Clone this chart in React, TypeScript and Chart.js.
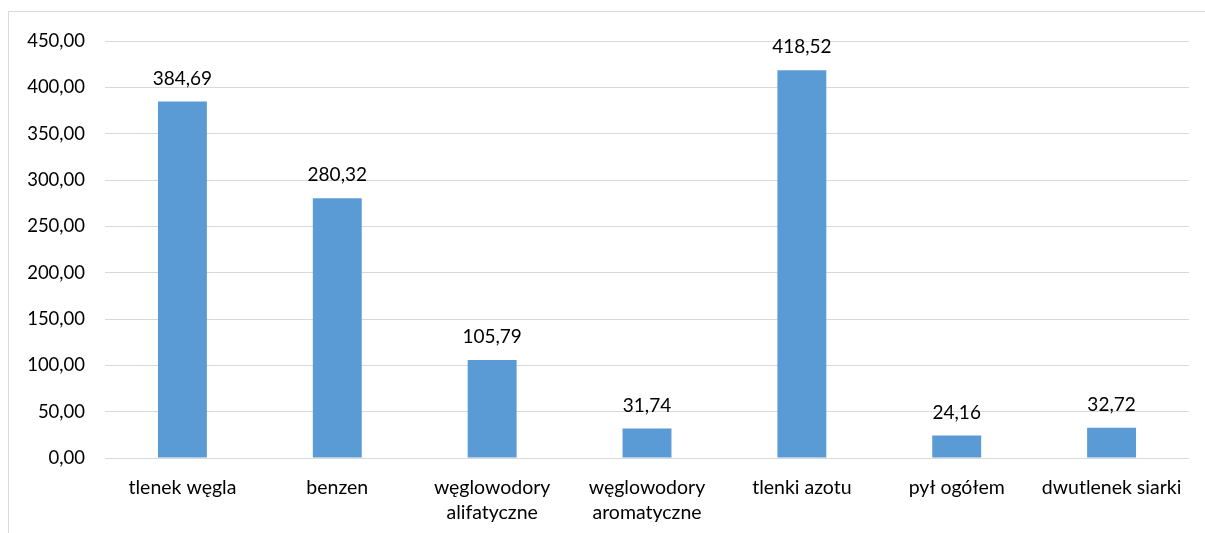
import React, { useEffect, useRef } from "react";
import { Chart, registerables } from "chart.js";

Chart.register(...registerables);

const categories: (string | string[])[] = [
  "tlenek węgla",
  "benzen",
  ["węglowodory", "alifatyczne"],
  ["węglowodory", "aromatyczne"],
  "tlenki azotu",
  "pył ogółem",
  "dwutlenek siarki",
];
const values: number[] = [384.69, 280.32, 105.79, 31.74, 418.52, 24.16, 32.72];
const yMin = 0;
const yMax = 450;
const yStep = 50;

const FONT = "Lato, 'Open Sans', sans-serif";
const fmt = (v: number) => v.toFixed(2).replace(".", ",");

const borderPlugin = {
  id: "frame",
  beforeDraw(chart: any) {
    const ctx = chart.ctx;
    ctx.save();
    ctx.strokeStyle = "#d9d9d9";
    ctx.lineWidth = 1;
    ctx.beginPath();
    ctx.moveTo(8.5, 600);
    ctx.lineTo(8.5, 11.5);
    ctx.lineTo(1300, 11.5);
    ctx.stroke();
    ctx.restore();
  },
};

const labelPlugin = {
  id: "valueLabels",
  afterDatasetsDraw(chart: any) {
    const ctx = chart.ctx;
    const meta = chart.getDatasetMeta(0);
    ctx.save();
    ctx.font = `19px ${FONT}`;
    ctx.fillStyle = "#000";
    ctx.textAlign = "center";
    ctx.textBaseline = "alphabetic";
    meta.data.forEach((bar: any, i: number) => {
      ctx.fillText(fmt(values[i]), bar.x, bar.y - 17);
    });
    ctx.restore();
  },
};

export default function App() {
  const ref = useRef<HTMLCanvasElement | null>(null);
  useEffect(() => {
    if (!ref.current) return;
    const chart = new Chart(ref.current, {
      type: "bar",
      data: {
        labels: categories,
        datasets: [
          {
            data: values,
            backgroundColor: "#5B9BD5",
            borderWidth: 0,
            barPercentage: 1,
            categoryPercentage: 0.316,
          },
        ],
      },
      options: {
        animation: false,
        responsive: true,
        maintainAspectRatio: false,
        layout: { padding: { left: 0, right: 16, top: 41, bottom: 0 } },
        plugins: {
          legend: { display: false },
          tooltip: { enabled: false },
        },
        scales: {
          x: {
            grid: { display: false, drawTicks: false },
            border: { display: false },
            ticks: {
              color: "#000",
              font: { family: FONT, size: 19.5, lineHeight: 25 / 19.5 },
              padding: 17,
              maxRotation: 0,
              autoSkip: false,
            },
            afterFit: (scale: any) => {
              scale.height = 75;
            },
          },
          y: {
            min: yMin,
            max: yMax,
            grid: { color: "#d9d9d9", lineWidth: 1, drawTicks: false },
            border: { display: false },
            ticks: {
              stepSize: yStep,
              color: "#000",
              font: { family: FONT, size: 18.5 },
              padding: 20,
              callback: (v: any) => fmt(Number(v)),
            },
            afterFit: (scale: any) => {
              scale.width = 105;
            },
          },
        },
      },
      plugins: [borderPlugin, labelPlugin],
    });
    return () => chart.destroy();
  }, []);
  return (
    <div style={{ position: "fixed", left: 0, top: 0, width: 1205, height: 533, background: "#fff" }}>
      <canvas ref={ref} />
    </div>
  );
}
